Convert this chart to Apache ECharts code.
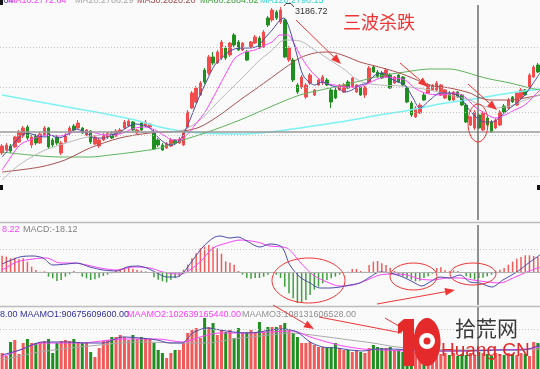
<!DOCTYPE html>
<html><head><meta charset="utf-8">
<script src="https://cdn.jsdelivr.net/npm/echarts/dist/echarts.min.js"></script>
<style>html,body{margin:0;padding:0;background:#fafafa}#c{width:540px;height:369px}</style>
</head><body><div id="c"></div>
<script>
// ---------- candles (price) ----------
const opens = [2603,2615,2631,2627,2647,2671,2707,2635,2671,2643,
2675,2703,2655,2667,2603,2647,2683,2711,2703,2703,
2675,2691,2639,2631,2655,2667,2683,2671,2683,2703,
2711,2727,2683,2723,2711,2707,2683,2655,2635,2623,
2631,2655,2643,2635,2707,2783,2807,2835,2935,2923,
2987,2963,2983,3023,2995,3075,3047,3015,3007,3027,
3043,3063,3027,3143,3135,3167,3127,3135,2975,2975,
2875,2867,2827,2883,2835,2875,2883,2895,2855,2855,
2855,2847,2887,2867,2847,2867,2835,2887,2947,2927,
2923,2907,2915,2883,2915,2907,2863,2803,2747,2763,
2835,2843,2855,2855,2835,2823,2843,2815,2847,2835,
2795,2715,2703,2755,2695,2743,2727,2703,2715,2791,
2783,2827,2795,2823,2855,2863,2907,2955];
const closes = [2631,2635,2611,2667,2687,2703,2663,2667,2643,2679,
2703,2627,2635,2643,2643,2675,2703,2695,2723,2683,
2695,2647,2667,2655,2675,2683,2663,2691,2695,2727,
2731,2695,2695,2695,2727,2719,2619,2635,2615,2639,
2655,2643,2659,2687,2767,2843,2863,2883,2887,2987,
2963,3007,3047,2983,3043,3035,3015,3043,2975,3047,
3067,3023,3087,3115,3175,3143,3175,2987,3023,2895,
2847,2907,2875,2915,2855,2895,2907,2875,2807,2823,
2875,2875,2863,2903,2875,2835,2867,2943,2927,2907,
2903,2935,2863,2907,2887,2875,2807,2755,2783,2795,
2815,2875,2871,2883,2875,2855,2815,2847,2827,2795,
2727,2747,2767,2703,2763,2715,2687,2735,2767,2767,
2815,2807,2843,2855,2835,2915,2947,2927];
const lows = [2595,2611,2603,2623,2643,2663,2655,2623,2635,2639,
2671,2619,2627,2635,2595,2643,2675,2691,2699,2679,
2671,2639,2635,2623,2651,2659,2659,2667,2679,2699,
2707,2691,2679,2691,2707,2703,2615,2627,2611,2619,
2627,2635,2639,2631,2703,2779,2803,2831,2879,2915,
2955,2959,2975,2975,2987,3027,3011,3011,2971,3023,
3039,3019,3023,3107,3127,3135,3119,2983,2967,2887,
2839,2859,2819,2875,2831,2871,2875,2871,2783,2819,
2851,2843,2859,2863,2843,2831,2823,2883,2923,2903,
2899,2903,2859,2879,2883,2871,2803,2747,2743,2759,
2811,2839,2851,2851,2831,2819,2811,2811,2823,2791,
2723,2711,2695,2699,2691,2707,2683,2699,2711,2763,
2779,2803,2791,2819,2831,2859,2903,2923];
const highs = [2639,2643,2639,2671,2695,2711,2715,2675,2679,2687,
2711,2707,2663,2675,2651,2683,2711,2719,2735,2707,
2699,2695,2675,2663,2683,2687,2691,2699,2703,2735,
2739,2731,2699,2727,2735,2723,2699,2663,2643,2647,
2663,2659,2667,2691,2775,2851,2871,2891,2943,2995,
3007,3015,3055,3031,3047,3083,3055,3047,3015,3051,
3075,3071,3095,3151,3183,3175,3186.72,3143,3031,2983,
2883,2915,2883,2923,2859,2903,2915,2903,2863,2863,
2879,2883,2895,2907,2879,2871,2871,2951,2955,2935,
2931,2943,2923,2911,2919,2911,2871,2811,2791,2803,
2843,2883,2879,2891,2879,2859,2851,2851,2851,2839,
2803,2751,2775,2763,2771,2751,2735,2743,2775,2799,
2823,2831,2847,2863,2859,2923,2955,2963];

// ---------- moving averages: [candle index, price] ----------
const ma5Pts = [[0,2587],[1.9,2623],[4.2,2667],[5.9,2683],[7.8,2675],[10.2,2667],[11.4,2675],[13.2,2663],[15.4,2675],[17.3,2699],[19.6,2687],[22,2663],[24.4,2663],[26,2675],[27.9,2687],[29.8,2707],[31.5,2719],[33.4,2715],[35,2703],[36.9,2667],[38.6,2643],[40.3,2635],[41.7,2647],[42.9,2675],[44.5,2735],[46.4,2815],[48.6,2895],[50.4,2955],[52.8,2995],[54.5,3015],[56.4,3023],[58.7,3023],[60.6,3031],[62.3,3063],[64,3095],[65.9,3135],[66.8,3143],[68.2,3095],[69.9,2995],[71.3,2915],[73,2883],[74.1,2875],[75.8,2887],[77.7,2875],[79.6,2863],[81.3,2847],[82.9,2855],[84.8,2875],[86.5,2883],[88.4,2915],[90.3,2923],[91.9,2903],[93.8,2887],[95.5,2875],[97.4,2823],[99,2783],[101.4,2815],[103.8,2843],[106.1,2843],[108.5,2827],[110.4,2783],[112.3,2747],[114.4,2727],[116.3,2727],[118,2747],[120.4,2783],[122.3,2807],[123.9,2835],[125.6,2875],[127.5,2923]];
const ma10Pts = [[0,2535],[1.9,2583],[4.2,2635],[6.6,2655],[10.2,2675],[13.7,2671],[17.3,2687],[20.8,2687],[24.4,2675],[26.8,2675],[29.1,2687],[31.5,2703],[33.9,2707],[36.2,2695],[38.6,2671],[40.3,2655],[42.2,2655],[43.8,2675],[45.7,2715],[48.1,2767],[49.7,2815],[51.6,2875],[53.5,2935],[55.2,2983],[57.6,3007],[59.9,3015],[62.3,3035],[64,3047],[65.9,3075],[67.7,3075],[69.4,3035],[70.6,2995],[73,2935],[74.9,2903],[76.5,2883],[78.9,2875],[81.3,2867],[83.6,2867],[86,2875],[88.4,2895],[90.7,2907],[93.1,2903],[95.5,2895],[97.8,2863],[100.2,2843],[103.8,2835],[107.3,2843],[109.7,2827],[112.1,2787],[114.4,2763],[116.8,2743],[119.2,2755],[121.5,2775],[123.9,2795],[126.3,2835],[127.5,2855]];
const ma20Pts = [[0,2495],[3.1,2543],[6.6,2583],[10.2,2615],[13.7,2635],[19.2,2663],[23.2,2675],[27.9,2683],[32.7,2687],[37.4,2687],[42.9,2695],[46.9,2735],[51.6,2815],[56.4,2895],[61.1,2975],[63.5,3007],[67,3055],[70.6,3051],[74.1,3015],[77.7,2975],[81.3,2935],[83.6,2903],[86,2883],[89.5,2875],[94.3,2871],[101.4,2855],[106.1,2835],[110.9,2815],[113.2,2795],[116.8,2783],[120.4,2791],[123.9,2815],[127.5,2835]];
const ma30Pts = [[0,2527],[9,2547],[14.9,2575],[20.8,2623],[27.9,2663],[35,2683],[42.9,2691],[46.9,2707],[51.6,2755],[56.4,2815],[61.1,2871],[64.7,2915],[67,2943],[70.6,2983],[74.1,3003],[77.7,3007],[81.3,2991],[84.8,2967],[88.4,2951],[91.9,2935],[95.5,2915],[101.4,2875],[106.1,2863],[110.9,2843],[112.8,2827],[115.6,2815],[120.4,2815],[125.1,2827],[127.5,2835]];
const ma60Pts = [[0,2607],[6.6,2595],[13.7,2587],[20.8,2587],[25.6,2595],[31.5,2607],[37.4,2623],[42.9,2655],[48.1,2683],[56.4,2735],[63.5,2787],[70.6,2835],[77.7,2863],[84.8,2891],[89.5,2911],[95.5,2927],[101.4,2939],[106.1,2939],[109.7,2927],[112.8,2911],[115.6,2899],[120.4,2883],[125.1,2863],[127.5,2855]];
const ma120Pts = [[0,2835],[10.2,2803],[20.8,2771],[31.5,2735],[37.4,2707],[42.2,2691],[46.9,2683],[56.4,2679],[63.5,2687],[70.6,2703],[80,2727],[89.5,2755],[95.5,2771],[103.8,2799],[113.2,2823],[120.4,2843],[127.5,2859]];

// ---------- MACD ----------
const macdHist = [49,46,41,43,39,41,31,16,6,1,
2,-14,-19,-27,-24,-14,-7,3,-4,-14,
-19,-24,-22,-17,-12,-8,-4,6,10,12,
12,10,6,4,2,-2,-16,-23,-28,-31,
-23,-18,-13,7,22,41,56,71,76,81,
76,71,55,32,28,22,3,-8,-18,-20,
-18,-18,-14,-8,-2,-8,-18,-44,-64,-79,
-93,-93,-84,-69,-53,-44,-34,-24,-19,-14,
-8,-4,1,9,9,3,1,21,31,33,
26,21,13,3,-8,-13,-18,-23,-28,-26,
-18,-13,-5,12,14,5,2,5,3,-3,
-13,-18,-23,-18,-17,-13,-8,3,7,12,
22,31,40,45,50,50,48,45];
const difPts = [[0,24],[4.2,45],[7.3,48],[9.7,42],[12,21],[15.4,24],[17.7,27],[20.8,15],[23.9,6],[27.2,3],[29.6,15],[32,18],[34.3,12],[36.7,-3],[39,-15],[41.4,-15],[42.9,-3],[45.2,36],[47.6,75],[50,102],[51.6,108],[54,102],[55.9,105],[58,93],[61.1,75],[63.5,84],[66.3,75],[68.2,21],[70.6,-15],[73,-33],[75.3,-48],[77.7,-48],[80.1,-45],[82.4,-39],[84.8,-33],[87.2,-15],[89.5,0],[91.9,-3],[95,-15],[97.4,-30],[99.5,-42],[101.4,-30],[103.8,-15],[106.1,-18],[108.5,-9],[110.9,-30],[113.2,-33],[116.1,-45],[118.7,-24],[122,0],[125.1,30],[127.5,51]];
const deaPts = [[0,6],[3.5,30],[7.3,39],[10.6,42],[13.7,27],[16.8,27],[20.1,21],[23.2,12],[27.2,6],[31,15],[35,12],[38.1,0],[41.4,-6],[43.3,-3],[46.9,30],[50,72],[53.3,87],[56.4,96],[60.4,90],[63.5,78],[67.5,72],[70.6,30],[73.7,-9],[77,-30],[80,-42],[83.2,-39],[86.5,-24],[89.5,-9],[92.6,-6],[96,-9],[99,-21],[102.1,-24],[105.4,-18],[108.5,-18],[111.6,-24],[115,-30],[118,-33],[121.1,-18],[124.4,0],[127.5,15]];

// ---------- amount (亿元) ----------
const volumes = [774,629,1307,1404,726,1258,1452,1258,1258,1307,
1355,1452,774,1258,1355,1404,1355,1452,1307,1258,
1258,823,581,1016,1355,1404,1549,1549,1646,1549,
1404,1646,1452,1549,1500,1452,1258,920,774,532,
774,920,920,1258,1742,1888,1984,1500,2468,2033,
2226,1646,1888,1791,1888,1500,1984,1742,1791,1888,
1791,2275,1791,2033,2033,2033,2130,2226,1888,1742,
1549,1258,1258,1307,1162,1065,1065,1016,1065,1258,
1016,920,920,823,920,823,774,1016,1162,1065,
1016,1016,1065,920,920,823,920,1016,823,774,
678,726,823,581,726,774,678,774,629,726,
678,774,678,823,774,726,629,774,726,678,
774,726,678,774,726,629,1307,1258];
const amo1Pts = [[0,678],[4.2,920],[9.7,1307],[15.4,1307],[20.1,1258],[23.9,1258],[28.6,1549],[32.7,1500],[36.7,1404],[39.8,1258],[42.6,1258],[45.2,1742],[48.6,1984],[51.6,1888],[54.7,1791],[58,1742],[61.1,1791],[63.5,1888],[66.6,1936],[69.9,1791],[73,1307],[76,1065],[79.4,1016],[82.4,920],[85.5,871],[88.8,968],[91.9,968],[96.7,920],[103.8,871],[110.9,871],[118,920],[123.4,920],[127.5,1162]];
const amo2Pts = [[0,581],[4.2,920],[9.7,1258],[18.5,1258],[28.6,1452],[36.7,1452],[42.9,1307],[46.9,1549],[51.6,1742],[58,1742],[63.5,1791],[68.9,1839],[73,1549],[77,1307],[80.8,1113],[85.5,968],[90.3,920],[96.7,871],[106.1,871],[115.6,920],[124.4,968],[127.5,1065]];
const amo3Pts = [[0,436],[9,823],[20.8,1113],[32.7,1307],[42.9,1258],[48.6,1258],[54.7,1452],[63.5,1646],[68.2,1742],[75.3,1597],[82.4,1404],[87.9,1258],[93.6,1065],[101.4,968],[110.9,920],[120.4,920],[127.5,968]];

// ---------- reference levels ----------
const priceGridLevels = [3027, 2867, 2767, 2675, 2511];
const crossPrice = 2687;
const crossIndex = 112.8;
const macdGridLevel = 69;
const volGridLevel = 1936;

const N = opens.length;
const RED = '#f24c4c', GREEN = '#1f8f1f';
const idx = opens.map((_, i) => i);
const candleData = opens.map((o, i) => [o, closes[i], lows[i], highs[i]]);

const ml = (data, extra) => Object.assign({symbol:['none','none'], silent:true, animation:false, label:{show:false}, data}, extra||{});
const dotted = {color:'#c4c4c4', type:[1,2], width:1};
const crossV = {xAxis: crossIndex, lineStyle:{color:'#6c6c6c', width:1.5, type:'solid'}};
function maLine(pts, color, xi, yi, extra){
  return Object.assign({type:'line', data:pts, xAxisIndex:xi, yAxisIndex:yi, showSymbol:false, smooth:0.3,
    lineStyle:{color, width:1}, z:3, silent:true}, extra||{});
}

const xAxes = [];
for (let g=0; g<3; g++){
  xAxes.push({type:'category', gridIndex:g, data:idx, show:false, boundaryGap:true});
  xAxes.push({type:'value', gridIndex:g, min:-0.5, max:N-0.5, show:false});
}

// annotations
const AC = '#f03535';
function arrow(x1,y1,x2,y2){
  const a = Math.atan2(y2-y1, x2-x1), L=10, W=3.8;
  const bx = x2 - L*Math.cos(a), by = y2 - L*Math.sin(a);
  const px = -Math.sin(a)*W, py = Math.cos(a)*W;
  return [{type:'line', z:100, shape:{x1,y1,x2:bx,y2:by}, style:{stroke:AC, lineWidth:1}},
          {type:'polygon', z:100, shape:{points:[[x2,y2],[bx+px,by+py],[bx-px,by-py]]}, style:{fill:AC}}];
}
function txt(x,y,text,fill,font,extra){
  return Object.assign({type:'text', z:100, style:{x,y,text,fill,font:font||'9px "Liberation Sans"', verticalAlign:'middle'}}, extra||{});
}
const ell = (cx,cy,rx,ry) => ({type:'ellipse', z:100, shape:{cx,cy,rx,ry}, style:{stroke:AC, fill:null, lineWidth:1}});

const graphics = [
  {type:'line', z:50, shape:{x1:0,y1:222.5,x2:540,y2:222.5}, style:{stroke:'#bdbdbd', lineWidth:1.5}},
  {type:'line', z:50, shape:{x1:0,y1:306.5,x2:540,y2:306.5}, style:{stroke:'#bdbdbd', lineWidth:1.5}},
  {type:'rect', z:100, shape:{x:0,y:0,width:3,height:5}, style:{fill:'#111'}},
  {type:'rect', z:100, shape:{x:0,y:185,width:3,height:5}, style:{fill:'#111'}},
  {type:'rect', z:100, shape:{x:537,y:185,width:3,height:5}, style:{fill:'#111'}},
  txt(3.5,0.5,'04','#3838a0'),
  txt(8,0.5,'MA10:2772.64','#ff40ff'),
  txt(75,0.5,'MA20:2786.29','#a8a8a8'),
  txt(137,0.5,'MA30:2820.20','#a04848'),
  txt(200,0.5,'MA60:2884.82','#40a040'),
  txt(260,0.5,'MA120:2798.15','#30d8d8'),
  txt(2,229.5,'8.22','#ff40ff'),
  txt(23,229.5,'MACD:-18.12','#808080'),
  txt(0,314.5,'8.00','#3030a0'),
  txt(20,314.5,'MAAMO1:90675609600.00','#3030a0'),
  txt(127,314.5,'MAAMO2:102639165440.00','#ff40ff'),
  txt(242,314.5,'MAAMO3:108131606528.00','#909090'),
  {type:'polyline', z:100, shape:{points:[[284,6],[286,3.5],[291,3.5],[294,7]]}, style:{stroke:'#444', lineWidth:1, fill:null}},
  txt(295,11.5,'3186.72','#333333'),
  txt(343,22,'三波杀跌',AC,'18px "Noto Sans CJK SC"'),
  ...arrow(296,20,341,64),
  ...arrow(400,63,428,87),
  ...arrow(468,84,497,110),
  ell(478,123,10,19),
  ell(308.5,280.5,36.5,22.5),
  ell(413.5,276.5,23.5,13.5),
  ell(473,274,23,11),
  ...arrow(377,304,455,290),
  ...arrow(273,305,314,329),
  {type:'line', z:100, shape:{x1:319,y1:317,x2:402,y2:333}, style:{stroke:AC, lineWidth:1}},
  {type:'line', z:100, shape:{x1:385,y1:318,x2:402,y2:328}, style:{stroke:AC, lineWidth:1}},
  // watermark
  {type:'polygon', z:110, shape:{points:[[404,319],[414,319],[414,366],[403,366],[403,331],[398,334],[398,324]]}, style:{fill:'#e42a2a'}},
  {type:'ellipse', z:110, shape:{cx:427,cy:342,rx:13.5,ry:24}, style:{fill:'#e42a2a'}},
  {type:'circle', z:111, shape:{cx:427,cy:341,r:8}, style:{fill:'#ffffff'}},
  {type:'circle', z:112, shape:{cx:427,cy:341,r:3.5}, style:{fill:'#e42a2a'}},
  txt(455,328,'拾荒网','#3a3a3a','21px "Noto Sans CJK SC"',{z:110}),
  txt(441,351,'Huang.CN','#e02828','19px "Liberation Sans"',{z:110})
];

const option = {
  animation:false,
  backgroundColor:'#fafafa',
  grid:[{left:0,right:0,top:5,height:215},{left:0,right:0,top:225,height:80},{left:0,right:0,top:307,height:62}],
  xAxis:xAxes,
  yAxis:[{gridIndex:0,min:2335,max:3195,show:false},{gridIndex:1,min:-99,max:141,show:false},{gridIndex:2,min:0,max:3000,show:false}],
  series:[
    {type:'candlestick', xAxisIndex:0, yAxisIndex:0, data:candleData, barWidth:3, silent:true,
     itemStyle:{color:RED, color0:GREEN, borderColor:RED, borderColor0:GREEN, borderWidth:1},
     markLine: ml(priceGridLevels.map(v=>({yAxis:v})).concat([{yAxis:crossPrice, lineStyle:{color:'#9a9a9a', width:1.6, type:'solid'}}]), {lineStyle:dotted})},
    maLine(ma120Pts,'#7cf2f2',1,0,{lineStyle:{color:'#7cf2f2',width:1.5}}),
    maLine(ma60Pts,'#5cb45c',1,0),
    maLine(ma30Pts,'#a85050',1,0),
    maLine(ma20Pts,'#b8b8b8',1,0),
    maLine(ma10Pts,'#ff44ff',1,0),
    maLine(ma5Pts,'#4a4aa8',1,0,{markLine: ml([crossV])}),
    {type:'bar', xAxisIndex:2, yAxisIndex:1, data:macdHist, barWidth:1.5, silent:true,
     itemStyle:{color:p=>p.value>=0?'#f25a5a':'#3ea03e'},
     markLine: ml([{yAxis:0, lineStyle:{color:'#b0b0b0',width:1,type:'solid'}},{yAxis:macdGridLevel}], {lineStyle:dotted})},
    maLine(deaPts,'#ff44ff',3,1),
    maLine(difPts,'#4a4aa8',3,1,{markLine: ml([crossV])}),
    {type:'bar', xAxisIndex:4, yAxisIndex:2, data:volumes, barWidth:3, silent:true,
     itemStyle:{color:p=>closes[p.dataIndex]>=opens[p.dataIndex]?'#f25a5a':GREEN},
     markLine: ml([{yAxis:volGridLevel}], {lineStyle:dotted})},
    maLine(amo3Pts,'#a8a8a8',5,2),
    maLine(amo2Pts,'#ff44ff',5,2),
    maLine(amo1Pts,'#4a4aa8',5,2,{markLine: ml([crossV])})
  ],
  graphic:{elements:graphics}
};
const chart = echarts.init(document.getElementById('c'), null, {renderer:'canvas'});
chart.setOption(option);
</script></body></html>
